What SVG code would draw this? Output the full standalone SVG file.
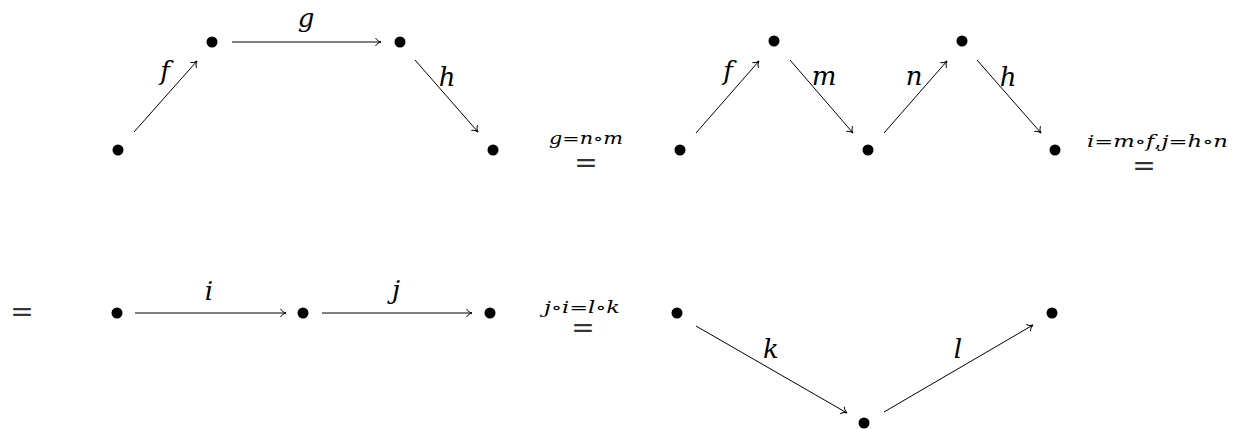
<svg xmlns="http://www.w3.org/2000/svg" width="1237" height="429" viewBox="0 0 1237 429">
<style>
.dot{fill:#000}
.edge{stroke:#000;stroke-width:1;fill:none;marker-end:url(#to)}
.lbl{font-family:"DejaVu Serif","Liberation Serif",serif;font-style:italic;font-size:26px;fill:#000;text-anchor:middle}
.sm{font-family:"DejaVu Serif","Liberation Serif",serif;font-style:italic;font-size:16px;fill:#000}
.up{font-style:normal}
.eq{font-family:"DejaVu Sans",sans-serif;font-size:28px;fill:#333;text-anchor:middle}
</style>
<defs>
<marker id="to" markerUnits="userSpaceOnUse" markerWidth="12" markerHeight="12" refX="0" refY="0" viewBox="-7 -6 8 12" orient="auto" overflow="visible">
<path d="M -5.5 -4 C -4 -1.6 -1.6 -0.3 0 0 C -1.6 0.3 -4 1.6 -5.5 4" stroke="#000" stroke-width="1" fill="none"/>
</marker>
</defs>

<g id="connectors">
<line class="edge" x1="134" y1="132" x2="197" y2="61"/>
<line class="edge" x1="232" y1="42" x2="381" y2="42"/>
<line class="edge" x1="415" y1="60" x2="478" y2="132"/>
<line class="edge" x1="696" y1="133" x2="759" y2="61"/>
<line class="edge" x1="790" y1="60" x2="853" y2="133"/>
<line class="edge" x1="884" y1="133" x2="947" y2="61"/>
<line class="edge" x1="977" y1="60" x2="1041" y2="133"/>
<line class="edge" x1="135" y1="313" x2="286" y2="313"/>
<line class="edge" x1="322" y1="313" x2="472" y2="313"/>
<line class="edge" x1="696" y1="326" x2="847" y2="413"/>
<line class="edge" x1="884" y1="412" x2="1033" y2="325"/>
</g>

<g id="edge-labels">
<text class="lbl" x="165" y="80">f</text>
<text class="lbl" x="306" y="27">g</text>
<text class="lbl" x="447" y="86">h</text>
<text class="lbl" x="728" y="80">f</text>
<text class="lbl" x="824" y="85">m</text>
<text class="lbl" x="914" y="85">n</text>
<text class="lbl" x="1008" y="86">h</text>
<text class="lbl" x="209" y="300">i</text>
<text class="lbl" x="396" y="299">j</text>
<text class="lbl" x="771" y="358">k</text>
<text class="lbl" x="958" y="358">l</text>
</g>

<g id="top-left">
<circle class="dot" cx="118" cy="150" r="5.5"/>
<circle class="dot" cx="212" cy="42" r="5.5"/>
<circle class="dot" cx="400" cy="42" r="5.5"/>
<circle class="dot" cx="493" cy="150" r="5.5"/>
</g>

<g id="eq1">
<text class="sm" x="549" y="144" textLength="74" lengthAdjust="spacingAndGlyphs">g<tspan class="up">=</tspan>n<tspan class="up">∘</tspan>m</text>
<text class="eq" x="586" y="172">=</text>
</g>

<g id="top-right">
<circle class="dot" cx="680" cy="150" r="5.5"/>
<circle class="dot" cx="774" cy="41" r="5.5"/>
<circle class="dot" cx="868" cy="150" r="5.5"/>
<circle class="dot" cx="962" cy="41" r="5.5"/>
<circle class="dot" cx="1055" cy="150" r="5.5"/>
</g>

<g id="eq2">
<text class="sm" x="1087" y="147" textLength="141" lengthAdjust="spacingAndGlyphs">i<tspan class="up">=</tspan>m<tspan class="up">∘</tspan>f<tspan class="up">,</tspan>j<tspan class="up">=</tspan>h<tspan class="up">∘</tspan>n</text>
<text class="eq" x="1144" y="175">=</text>
</g>

<g id="eq-left">
<text class="eq" x="22" y="321">=</text>
</g>

<g id="bottom-left">
<circle class="dot" cx="117" cy="313" r="5.5"/>
<circle class="dot" cx="303" cy="313" r="5.5"/>
<circle class="dot" cx="490" cy="313" r="5.5"/>
</g>

<g id="eq3">
<text class="sm" x="544" y="313" textLength="76" lengthAdjust="spacingAndGlyphs">j<tspan class="up">∘</tspan>i<tspan class="up">=</tspan>l<tspan class="up">∘</tspan>k</text>
<text class="eq" x="583" y="337">=</text>
</g>

<g id="bottom-right">
<circle class="dot" cx="677" cy="313" r="5.5"/>
<circle class="dot" cx="864" cy="423" r="5.5"/>
<circle class="dot" cx="1052" cy="313" r="5.5"/>
</g>
</svg>
